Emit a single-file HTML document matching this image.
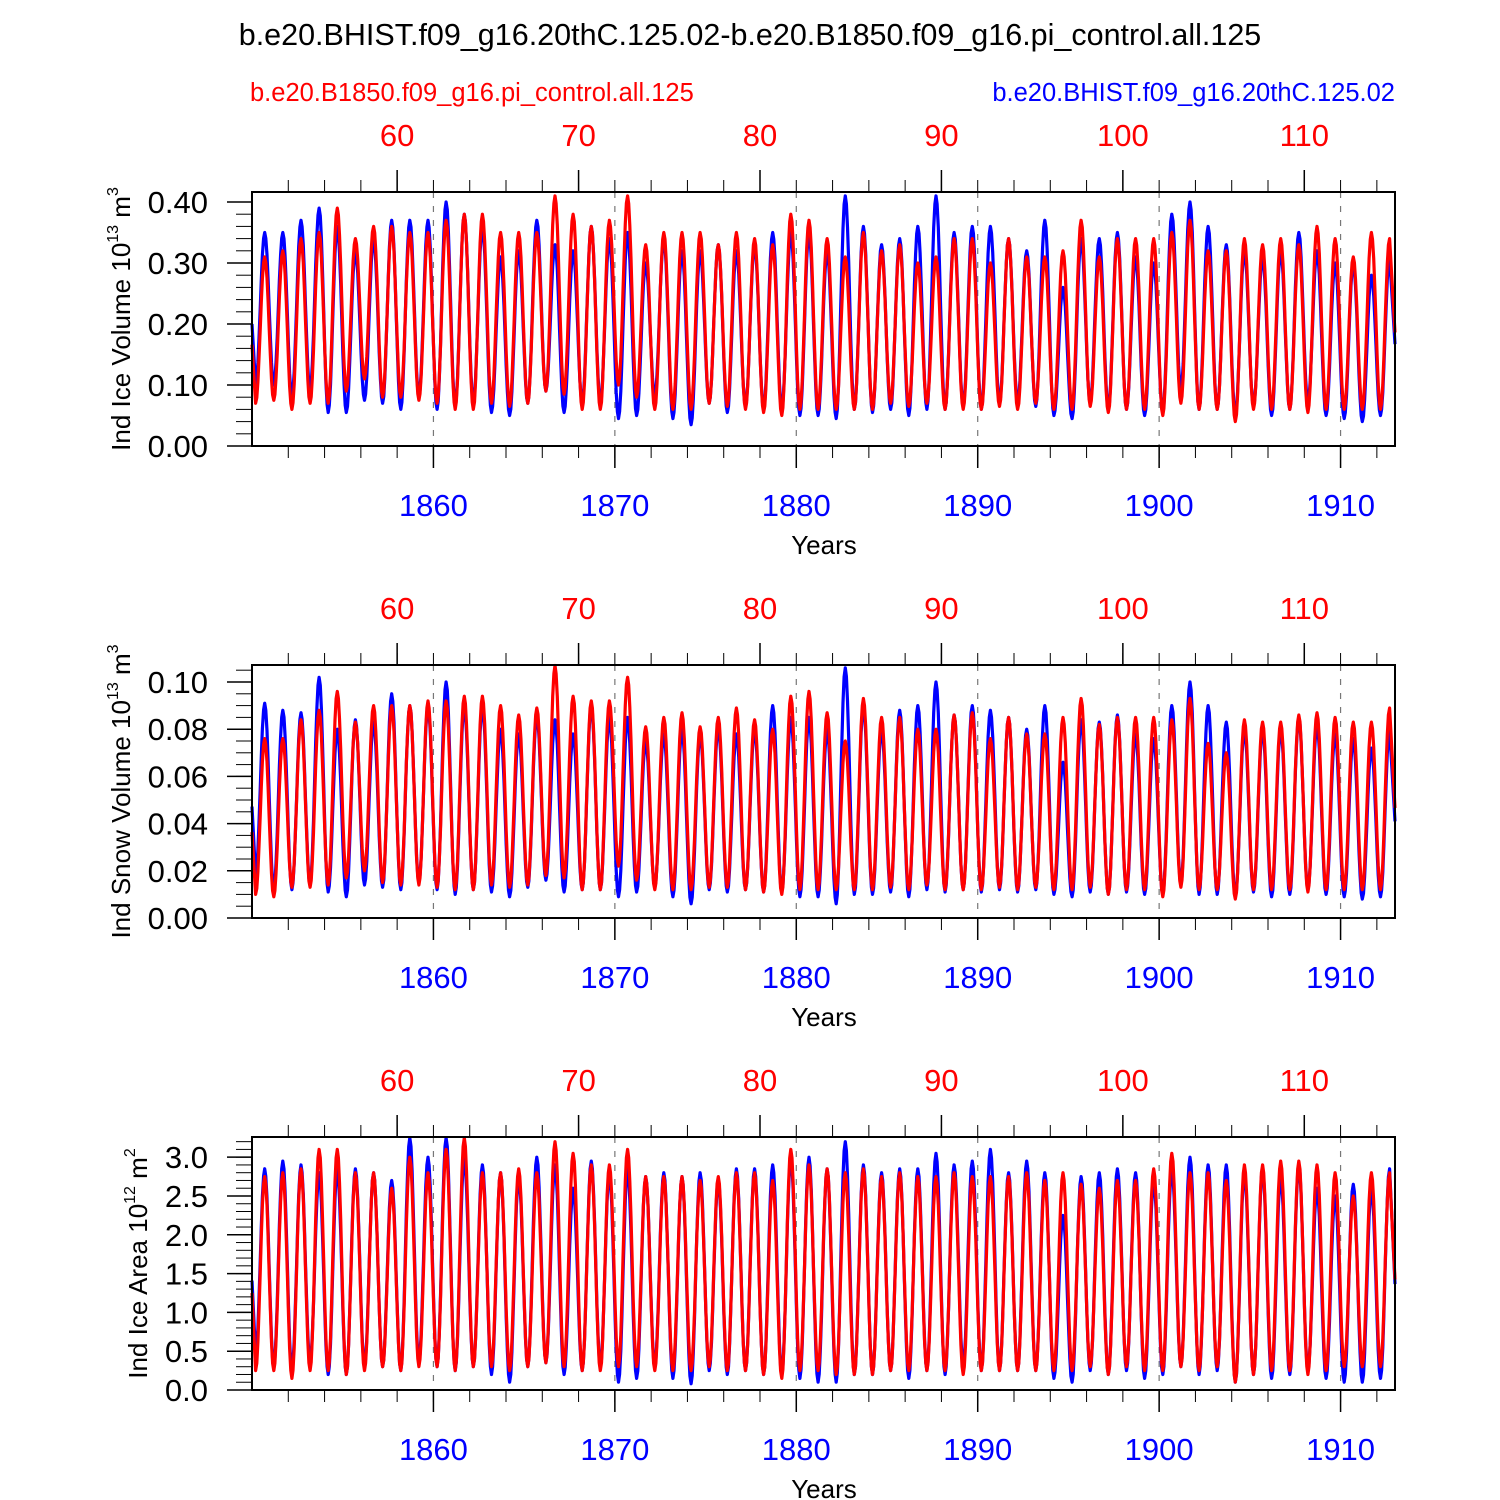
<!DOCTYPE html>
<html><head><meta charset="utf-8"><style>
html,body{margin:0;padding:0;background:#fff;}
svg{display:block;font-family:"Liberation Sans",sans-serif;}
</style></head><body>
<svg id="chart" width="1500" height="1500" viewBox="0 0 1500 1500" xmlns="http://www.w3.org/2000/svg">
<rect width="1500" height="1500" fill="#fff"/>
<text x="750" y="45" text-anchor="middle" font-size="30.5">b.e20.BHIST.f09_g16.20thC.125.02-b.e20.B1850.f09_g16.pi_control.all.125</text>
<text x="250" y="101" font-size="25.5" fill="#ff0000">b.e20.B1850.f09_g16.pi_control.all.125</text>
<text x="1395" y="101" font-size="25.5" fill="#0000ff" text-anchor="end">b.e20.BHIST.f09_g16.20thC.125.02</text>
</svg>
<script>
// hist years 1850..1912 : seasonal peak / trough per year
const years = Array.from({length:63},(_, i)=>1850+i);
const iceBluePeak = [0.35,0.35,0.37,0.39,0.36,0.32,0.34,0.37,0.37,0.37,0.40,0.38,0.36,0.31,0.32,0.37,0.33,0.32,0.36,0.34,0.35,0.30,0.34,0.32,0.32,0.33,0.32,0.33,0.35,0.35,0.35,0.32,0.41,0.36,0.33,0.34,0.36,0.41,0.35,0.36,0.36,0.34,0.32,0.37,0.26,0.34,0.34,0.35,0.31,0.30,0.38,0.40,0.36,0.33,0.32,0.31,0.32,0.35,0.32,0.30,0.30,0.28,0.31];
const iceBlueTrough = [0.10,0.10,0.08,0.09,0.055,0.055,0.075,0.07,0.06,0.08,0.06,0.065,0.07,0.055,0.05,0.07,0.09,0.055,0.07,0.07,0.045,0.05,0.08,0.045,0.035,0.07,0.055,0.065,0.06,0.06,0.05,0.05,0.045,0.06,0.055,0.06,0.05,0.06,0.06,0.065,0.06,0.07,0.07,0.065,0.05,0.045,0.07,0.06,0.06,0.05,0.055,0.09,0.06,0.06,0.05,0.065,0.05,0.06,0.07,0.05,0.045,0.04,0.05];
const iceRedPeak = [0.31,0.32,0.34,0.35,0.39,0.34,0.36,0.36,0.35,0.35,0.37,0.38,0.38,0.35,0.35,0.35,0.41,0.38,0.36,0.37,0.41,0.33,0.35,0.35,0.35,0.33,0.35,0.34,0.33,0.38,0.37,0.34,0.31,0.35,0.32,0.33,0.30,0.31,0.34,0.34,0.30,0.34,0.31,0.31,0.32,0.37,0.31,0.34,0.34,0.34,0.35,0.37,0.32,0.32,0.34,0.33,0.34,0.33,0.36,0.34,0.31,0.35,0.34];
const iceRedTrough = [0.07,0.075,0.06,0.07,0.07,0.09,0.11,0.08,0.08,0.075,0.07,0.06,0.06,0.07,0.065,0.07,0.09,0.085,0.06,0.06,0.10,0.08,0.06,0.06,0.06,0.07,0.065,0.06,0.055,0.05,0.06,0.06,0.06,0.06,0.06,0.07,0.065,0.07,0.06,0.06,0.06,0.065,0.06,0.07,0.06,0.06,0.065,0.055,0.06,0.06,0.05,0.07,0.06,0.06,0.04,0.06,0.06,0.06,0.055,0.06,0.06,0.06,0.06];
const snowBluePeak = [0.091,0.088,0.087,0.102,0.08,0.084,0.083,0.095,0.09,0.09,0.1,0.09,0.09,0.08,0.078,0.086,0.084,0.078,0.09,0.085,0.085,0.075,0.078,0.08,0.078,0.081,0.078,0.08,0.09,0.085,0.085,0.08,0.106,0.09,0.08,0.088,0.09,0.1,0.086,0.09,0.088,0.085,0.08,0.09,0.066,0.084,0.083,0.086,0.078,0.076,0.09,0.1,0.09,0.083,0.08,0.08,0.08,0.085,0.082,0.078,0.076,0.072,0.08];
const snowBlueTrough = [0.018,0.012,0.012,0.014,0.011,0.009,0.014,0.013,0.012,0.015,0.012,0.01,0.012,0.011,0.009,0.013,0.016,0.011,0.012,0.012,0.009,0.011,0.013,0.009,0.006,0.012,0.011,0.012,0.011,0.011,0.009,0.009,0.006,0.01,0.01,0.011,0.009,0.012,0.011,0.012,0.011,0.012,0.011,0.012,0.01,0.009,0.011,0.01,0.011,0.01,0.01,0.014,0.01,0.01,0.009,0.011,0.009,0.01,0.012,0.01,0.009,0.008,0.009];
const snowRedPeak = [0.076,0.076,0.084,0.088,0.096,0.083,0.09,0.09,0.09,0.092,0.092,0.094,0.094,0.09,0.086,0.089,0.107,0.094,0.092,0.092,0.102,0.081,0.085,0.087,0.081,0.085,0.089,0.084,0.08,0.094,0.096,0.087,0.075,0.093,0.085,0.085,0.08,0.08,0.086,0.087,0.076,0.085,0.078,0.078,0.085,0.093,0.082,0.085,0.085,0.085,0.084,0.093,0.074,0.07,0.084,0.083,0.083,0.086,0.087,0.085,0.083,0.083,0.089];
const snowRedTrough = [0.01,0.009,0.013,0.013,0.014,0.017,0.02,0.015,0.014,0.014,0.013,0.012,0.012,0.014,0.013,0.014,0.018,0.017,0.012,0.012,0.022,0.016,0.012,0.012,0.012,0.013,0.013,0.012,0.011,0.01,0.012,0.012,0.012,0.012,0.012,0.013,0.012,0.014,0.012,0.012,0.012,0.013,0.012,0.013,0.012,0.012,0.013,0.01,0.012,0.012,0.009,0.013,0.012,0.012,0.008,0.012,0.012,0.012,0.011,0.012,0.012,0.012,0.012];
const areaBluePeak = [2.85,2.95,2.9,2.8,2.85,2.85,2.8,2.7,3.25,3.0,3.25,3.0,2.9,2.8,2.75,3.0,2.9,2.6,2.95,2.8,2.85,2.75,2.8,2.75,2.8,2.7,2.85,2.85,2.9,3.0,3.0,2.85,3.2,2.9,2.8,2.85,2.85,3.05,2.9,2.95,3.1,2.8,2.95,2.8,2.25,2.75,2.8,2.85,2.8,2.7,2.85,3.0,2.9,2.9,2.8,2.85,2.75,2.9,2.6,2.5,2.65,2.6,2.85];
const areaBlueTrough = [0.45,0.3,0.25,0.35,0.2,0.2,0.3,0.3,0.25,0.35,0.3,0.25,0.3,0.2,0.1,0.3,0.35,0.2,0.25,0.3,0.1,0.15,0.3,0.15,0.08,0.25,0.2,0.25,0.2,0.2,0.15,0.1,0.1,0.2,0.2,0.25,0.15,0.25,0.2,0.3,0.25,0.25,0.25,0.25,0.15,0.1,0.25,0.2,0.25,0.15,0.2,0.3,0.2,0.25,0.1,0.2,0.15,0.2,0.25,0.15,0.1,0.1,0.15];
const areaRedPeak = [2.75,2.8,2.85,3.1,3.1,2.8,2.8,2.6,3.0,2.8,3.1,3.25,2.8,2.8,2.85,2.8,3.2,3.05,2.9,2.9,3.1,2.75,2.75,2.75,2.7,2.75,2.8,2.8,2.7,3.1,2.9,2.85,2.8,2.85,2.75,2.8,2.75,2.75,2.8,2.75,2.75,2.75,2.8,2.7,2.8,2.65,2.6,2.7,2.7,2.85,3.05,2.8,2.8,2.7,2.9,2.9,2.95,2.95,2.9,2.8,2.5,2.8,2.8];
const areaRedTrough = [0.25,0.25,0.15,0.25,0.25,0.2,0.25,0.3,0.25,0.3,0.3,0.25,0.3,0.3,0.25,0.3,0.35,0.3,0.25,0.25,0.3,0.3,0.25,0.25,0.25,0.3,0.25,0.25,0.2,0.15,0.25,0.25,0.2,0.2,0.2,0.25,0.25,0.25,0.25,0.2,0.25,0.25,0.25,0.25,0.25,0.25,0.3,0.2,0.3,0.25,0.25,0.3,0.25,0.3,0.1,0.2,0.25,0.25,0.2,0.25,0.3,0.3,0.3];
const bottomTicks = [1860,1870,1880,1890,1900,1910];
const topTicks = [60,70,80,90,100,110];

const NS="http://www.w3.org/2000/svg";
const svg=document.getElementById('chart');
function mk(tag,attrs,parent){const e=document.createElementNS(NS,tag);for(const k in attrs)e.setAttribute(k,attrs[k]);(parent||svg).appendChild(e);return e;}

const X0=252,X1=1395,T0=1850,T1=1913;
const xs=t=>X0+(t-T0)/(T1-T0)*(X1-X0);

function seasonal(peaks,troughs){
  const kp=[];
  for(let i=0;i<years.length;i++){kp.push([years[i]+0.2,troughs[i]]);kp.push([years[i]+0.7,peaks[i]]);}
  const pts=[];
  pts.push([T0,troughs[0]+(peaks[0]-troughs[0])*0.4]);
  for(let j=0;j<kp.length-1;j++){
    const [ta,va]=kp[j],[tb,vb]=kp[j+1];
    for(let s=0;s<8;s++){const f=s/8;const w=(1-Math.cos(Math.PI*f))/2;pts.push([ta+(tb-ta)*f,va+(vb-va)*w]);}
  }
  const last=kp[kp.length-1];pts.push(last);
  pts.push([T1,troughs[troughs.length-1]+(last[1]-troughs[troughs.length-1])*0.45]);
  return pts;
}

const panels=[
 {top:192,bot:446,ymin:0,ymax:0.4164,ticks:[0,0.1,0.2,0.3,0.4],dec:2,minor:0.02,title:['Ind Ice Volume 10','13',' m','3'],tx:130,
  b:[iceBluePeak,iceBlueTrough],r:[iceRedPeak,iceRedTrough],name:'ice-volume'},
 {top:665,bot:918,ymin:0,ymax:0.1072,ticks:[0,0.02,0.04,0.06,0.08,0.1],dec:2,minor:0.005,title:['Ind Snow Volume 10','13',' m','3'],tx:130,
  b:[snowBluePeak,snowBlueTrough],r:[snowRedPeak,snowRedTrough],name:'snow-volume'},
 {top:1137,bot:1390,ymin:0,ymax:3.26,ticks:[0,0.5,1,1.5,2,2.5,3],dec:1,minor:0.1,title:['Ind Ice Area 10','12',' m','2'],tx:147,
  b:[areaBluePeak,areaBlueTrough],r:[areaRedPeak,areaRedTrough],name:'ice-area'}
];

panels.forEach(p=>{
  const g=mk('g',{});
  
  
  const ys=v=>p.bot-(v-p.ymin)/(p.ymax-p.ymin)*(p.bot-p.top);
  bottomTicks.forEach(t=>{const l=mk('line',{x1:xs(t),x2:xs(t),y1:p.top,y2:p.bot,stroke:'#777','stroke-width':1.2,'stroke-dasharray':'6,8'},g);
    });
  [['b','#0000ff'],['r','#ff0000']].forEach(([k,c])=>{
    const pts=seasonal(p[k][0],p[k][1]);
    const d=pts.map((q,i)=>(i?'L':'M')+xs(q[0]).toFixed(1)+','+ys(q[1]).toFixed(1)).join('');
    const path=mk('path',{d:d,fill:'none',stroke:c,'stroke-width':3.2,'stroke-linejoin':'round'},g);
    
    
  });
  const fr=mk('rect',{x:X0,y:p.top,width:X1-X0,height:p.bot-p.top,fill:'none',stroke:'#000','stroke-width':2},g);
  
  for(let v=p.ymin;v<=p.ymax+1e-9;v+=p.minor){mk('line',{x1:X0-16,x2:X0,y1:ys(v),y2:ys(v),stroke:'#000','stroke-width':1},g);}
  p.ticks.forEach(v=>{
    mk('line',{x1:X0-25,x2:X0,y1:ys(v),y2:ys(v),stroke:'#000','stroke-width':1.5},g);
    const t=mk('text',{x:X0-44,y:ys(v)+11,'text-anchor':'end','font-size':31},g);t.textContent=v.toFixed(p.dec);
    
  });
  for(let y=1852;y<=1912;y+=2){mk('line',{x1:xs(y),x2:xs(y),y1:p.bot,y2:p.bot+12,stroke:'#000','stroke-width':1},g);}
  bottomTicks.forEach(t=>{
    mk('line',{x1:xs(t),x2:xs(t),y1:p.bot,y2:p.bot+22,stroke:'#000','stroke-width':1.5},g);
    const tx=mk('text',{x:xs(t),y:p.bot+70,'text-anchor':'middle','font-size':31,fill:'#0000ff'},g);tx.textContent=t;
    
  });
  for(let c=54;c<=114;c+=2){mk('line',{x1:xs(c+1798),x2:xs(c+1798),y1:p.top-12,y2:p.top,stroke:'#000','stroke-width':1},g);}
  topTicks.forEach(c=>{
    mk('line',{x1:xs(c+1798),x2:xs(c+1798),y1:p.top-22,y2:p.top,stroke:'#000','stroke-width':1.5},g);
    const tx=mk('text',{x:xs(c+1798),y:p.top-46,'text-anchor':'middle','font-size':31,fill:'#ff0000'},g);tx.textContent=c;
    
  });
  const xt=mk('text',{x:824,y:p.bot+108,'text-anchor':'middle','font-size':26},g);xt.textContent='Years';
  
  const cy=(p.top+p.bot)/2;
  const yt=mk('text',{x:0,y:0,'text-anchor':'middle','font-size':26,transform:`translate(${p.tx},${cy}) rotate(-90)`},g);
  
  const a=mk('tspan',{},yt);a.textContent=p.title[0];
  const b=mk('tspan',{'font-size':16,dy:-12},yt);b.textContent=p.title[1];
  const c=mk('tspan',{dy:12},yt);c.textContent=p.title[2];
  const d=mk('tspan',{'font-size':16,dy:-12},yt);d.textContent=p.title[3];
});
</script>
</body></html>
